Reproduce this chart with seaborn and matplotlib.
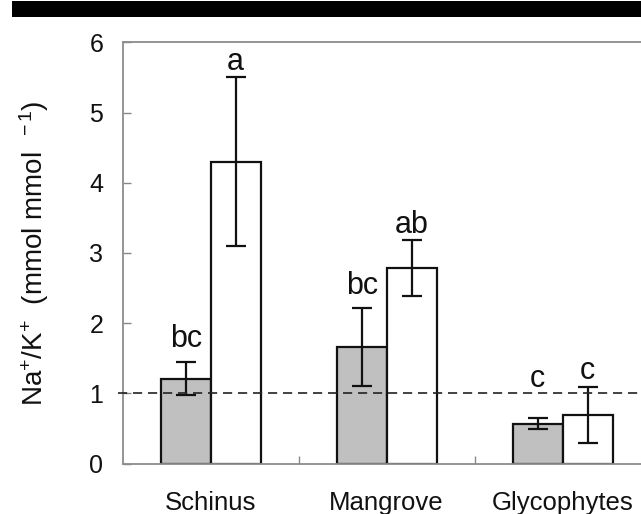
import matplotlib
matplotlib.use("Agg")
import matplotlib.pyplot as plt
import seaborn as sns
import pandas as pd
from matplotlib.patches import Rectangle

# ---- data ----
groups = ["Schinus", "Mangrove", "Glycophytes"]
treatments = ["control", "salt"]
means_control = [1.21, 1.66, 0.57]
means_salt = [4.30, 2.79, 0.69]
err_control = [0.24, 0.56, 0.08]
err_salt = [1.20, 0.40, 0.40]
letters_control = ["bc", "bc", "c"]
letters_salt = ["a", "ab", "c"]
letter_y_control = [1.66, 2.41, 1.09]
letter_y_salt = [5.60, 3.28, 1.20]
y_ticks = [0, 1, 2, 3, 4, 5, 6]
ref_line = 1.0

df = pd.DataFrame({
    "group": groups * 2,
    "treatment": [treatments[0]] * 3 + [treatments[1]] * 3,
    "value": means_control + means_salt,
})
errs = err_control + err_salt
letters = letters_control + letters_salt
letter_ys = letter_y_control + letter_y_salt

sns.set_theme(style="white")
plt.rcParams["font.family"] = ["Liberation Sans", "DejaVu Sans"]
plt.rcParams["mathtext.fontset"] = "custom"
plt.rcParams["mathtext.rm"] = "Liberation Sans"
plt.rcParams["mathtext.it"] = "Liberation Sans:italic"
plt.rcParams["mathtext.bf"] = "Liberation Sans:bold"

fig = plt.figure(figsize=(6.41, 5.14), dpi=100)
fig.patch.set_facecolor("white")
ax = fig.add_axes([0.1914, 0.0982, 0.8237, 0.8195])

sns.barplot(data=df, x="group", y="value", hue="treatment",
            hue_order=treatments, order=groups,
            palette={"control": "#c0c0c0", "salt": "white"},
            width=0.568, edgecolor="#111111", linewidth=1.6,
            errorbar=None, legend=False, ax=ax, saturation=1)

bars = [p for p in ax.patches if isinstance(p, Rectangle) and p.get_width() > 0]
for bar, e, lab, ly in zip(bars, errs, letters, letter_ys):
    xc = bar.get_x() + bar.get_width() / 2
    h = bar.get_height()
    ax.errorbar(xc, h, yerr=e, fmt="none", ecolor="#111111",
                elinewidth=1.6, capsize=7.5, capthick=1.6, zorder=5)
    ax.text(xc, ly, lab, ha="center", va="baseline", fontsize=22, color="#111111")

ax.axhline(ref_line, xmin=-0.008, xmax=1, color="#222222", lw=1.2,
           linestyle=(0, (5.5, 3.5)), clip_on=False, zorder=6)

ax.set_xlim(-0.5, 2.5)
ax.set_ylim(0, 6)
ax.set_yticks(y_ticks)
ax.set_yticklabels([str(t) for t in y_ticks])
ax.set_xlabel("")
ax.set_ylabel("Na$^{+}$/K$^{+}$  (mmol mmol  $^{-\\,1}$)", fontsize=20, color="#111111")
ax.yaxis.set_label_coords(-0.135, 0.5)

ax.set_xticks([0.5, 1.5], minor=True)
ax.tick_params(axis="x", which="major", length=0, pad=20, labelsize=18.5, labelcolor="#111111")
ax.tick_params(axis="x", which="minor", direction="in", length=6, width=1, color="#888888", bottom=True)
ax.tick_params(axis="y", which="major", direction="in", length=6, width=1, color="#888888",
               pad=14, labelsize=18, labelcolor="#111111", left=True)

for side in ["left", "bottom", "top"]:
    ax.spines[side].set_color("#8c8c8c")
    ax.spines[side].set_linewidth(1.3)
    ax.spines[side].set_visible(True)
ax.spines["right"].set_visible(False)
ax.grid(False)

fig.patches.append(Rectangle((12 / 641, 1 - 16.7 / 514), 1, 15.7 / 514,
                             transform=fig.transFigure, facecolor="black",
                             edgecolor="none", zorder=10))

fig.savefig("out.png", dpi=100)
